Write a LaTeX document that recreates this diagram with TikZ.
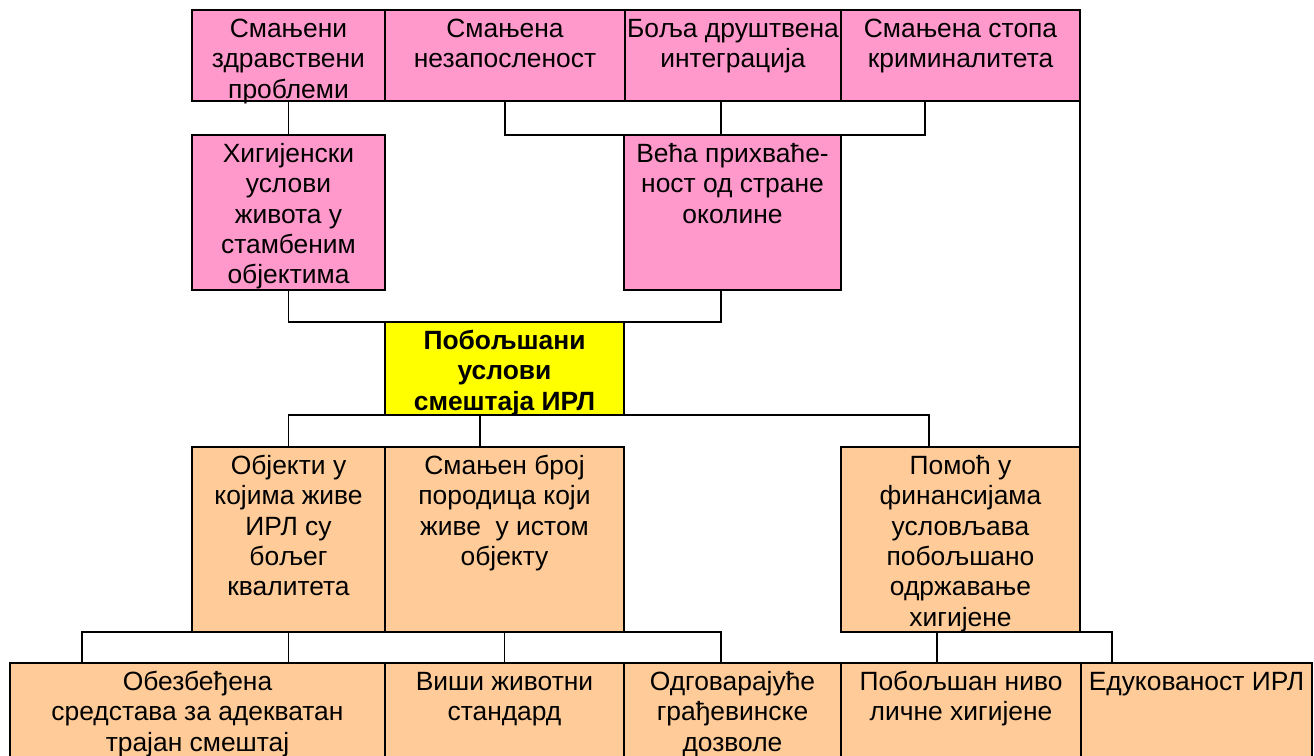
\documentclass[tikz,border=0pt]{standalone}
\usepackage{fontspec}
\setmainfont{Liberation Sans}
\definecolor{pinkc}{HTML}{FF99CC}
\definecolor{peachc}{HTML}{FFCC99}
\definecolor{yellowc}{HTML}{FFFF00}
\newcommand\tb[3]{\parbox[c][#2pt][t]{#1pt}{\centering\leftskip=-12pt plus 1fil\rightskip=-12pt plus 1fil\rule{0pt}{27.5pt}#3}}
\begin{document}
\begin{tikzpicture}[x=1pt,y=-1pt,
  boxbase/.style={draw=black, line width=1.8pt, rectangle, inner sep=0pt, outer sep=0pt,
    font=\fontsize{26.4}{30.3}\selectfont},
  pinkbox/.style={boxbase, fill=pinkc},
  peachbox/.style={boxbase, fill=peachc},
  yellowbox/.style={boxbase, fill=yellowc, font=\fontsize{26.4}{30.3}\selectfont\bfseries},
  conn/.style={draw=black, line width=1.8pt}]
\useasboundingbox (0,0) rectangle (1314,755);

\coordinate (j2) at (925,135);
\coordinate (j3) at (721,135);
\coordinate (k1) at (721,322);
\coordinate (q1) at (288.5,415);
\coordinate (q2) at (480,415);
\coordinate (q3) at (929,415);
\coordinate (r1) at (82,632);
\coordinate (r2) at (721,632);
\coordinate (s1) at (937,632);
\coordinate (s2) at (1112,632);

% top row
\node[pinkbox, minimum width=193pt, minimum height=91pt] (t1) at (288.5,55.5) {\tb{193}{91}{Смањени\\здравствени\\проблеми}};
\node[pinkbox, minimum width=240pt, minimum height=91pt] (t2) at (505,55.5) {\tb{240}{91}{Смањена\\незапосленост}};
\node[pinkbox, minimum width=216pt, minimum height=91pt] (t3) at (733,55.5) {\tb{216}{91}{Боља друштвена\\интеграција}};
\node[pinkbox, minimum width=239pt, minimum height=91pt] (t4) at (960.5,55.5) {\tb{239}{91}{Смањена стопа\\криминалитета}};

% second row
\node[pinkbox, minimum width=193pt, minimum height=155pt] (h) at (288.5,212.5) {\tb{193}{155}{Хигијенски\\услови\\живота у\\стамбеним\\објектима}};
\node[pinkbox, minimum width=217pt, minimum height=155pt] (v) at (732.5,212.5) {\tb{217}{155}{Већа прихваће-\\ност од стране\\околине}};

% centre
\node[yellowbox, minimum width=239pt, minimum height=93pt] (c) at (504.5,368.5) {\tb{239}{93}{Побољшани\\услови\\смештаја ИРЛ}};

% middle row
\node[peachbox, minimum width=193pt, minimum height=185pt] (m1) at (288.5,539.5) {\tb{193}{185}{Објекти у\\којима живе\\ИРЛ су\\бољег\\квалитета}};
\node[peachbox, minimum width=239pt, minimum height=185pt] (m2) at (504.5,539.5) {\tb{239}{185}{Смањен број\\породица који\\живе~~у истом\\објекту}};
\node[peachbox, minimum width=239pt, minimum height=185pt] (m3) at (960.5,539.5) {\tb{239}{185}{Помоћ у\\финансијама\\условљава\\побољшано\\одржавање\\хигијене}};

% bottom row
\node[peachbox, minimum width=375pt, minimum height=100pt] (b1) at (197.5,713) {\tb{375}{100}{Обезбеђена\\средстава за адекватан\\трајан смештај}};
\node[peachbox, minimum width=239pt, minimum height=100pt] (b2) at (504.5,713) {\tb{239}{100}{Виши животни\\стандард}};
\node[peachbox, minimum width=217pt, minimum height=100pt] (b3) at (732.5,713) {\tb{217}{100}{Одговарајуће\\грађевинске\\дозволе}};
\node[peachbox, minimum width=240pt, minimum height=100pt] (b4) at (961,713) {\tb{240}{100}{Побољшан ниво\\личне хигијене}};
\node[peachbox, minimum width=231pt, minimum height=100pt] (b5) at (1196.5,713) {\tb{231}{100}{Едукованост ИРЛ}};

% connectors
\draw[conn] (t1.south) -- (h.north);
\draw[conn] (t2.south) |- (j2) -- (j2 |- t4.south);
\draw[conn] (j3 |- t3.south) -- (j3);
\draw[conn] (h.south) |- (k1) -- (k1 |- v.south);
\draw[conn] (m1.north) -- (q1) -- (q3) -- (q3 |- m3.north);
\draw[conn] (q2) -- (q2 |- m2.north);
\draw[conn] (t4.south east) -- (m3.north east);
\draw[conn] (r1 |- b1.north) -- (r1) -- (r2) -- (r2 |- b3.north);
\draw[conn] (m1.south) -- (m1.south |- b1.north);
\draw[conn] (m2.south) -- (m2.south |- b2.north);
\draw[conn] (s1 |- b4.north) -- (s1) -- (s2) -- (s2 |- b5.north);
\end{tikzpicture}
\end{document}
